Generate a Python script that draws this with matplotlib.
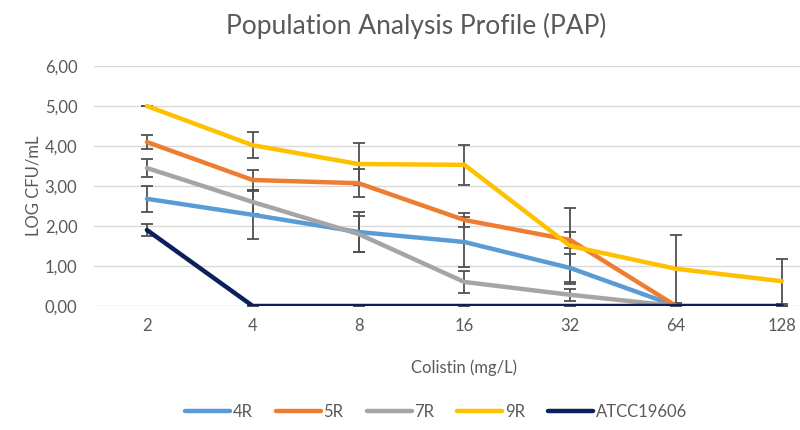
import numpy as np
import matplotlib
matplotlib.use("Agg")
import matplotlib.pyplot as plt

# Data
concentrations = ["2", "4", "8", "16", "32", "64", "128"]
series_names = ["4R", "5R", "7R", "9R", "ATCC19606"]

r4 = [2.68, 2.28, 1.85, 1.60, 0.95, 0.00, np.nan]
r5 = [4.10, 3.15, 3.07, 2.15, 1.65, 0.00, np.nan]
r7 = [3.45, 2.60, 1.80, 0.60, 0.28, 0.00, np.nan]
r9 = [5.00, 4.02, 3.55, 3.53, 1.50, 0.93, 0.62]
atcc = [1.90, 0.00, 0.00, 0.00, 0.00, 0.00, 0.00]

r4_err = [0.33, 0.60, 0.50, 0.62, 0.35, 0.0, np.nan]
r5_err = [0.18, 0.25, 0.35, 0.18, 0.20, 0.0, np.nan]
r7_err = [0.23, 0.30, 0.45, 0.27, 0.15, 0.0, np.nan]
r9_err = [0.00, 0.33, 0.52, 0.50, 0.95, 0.85, 0.56]
atcc_err = [0.15, 0, 0, 0, 0, 0, 0]

colors = ["#5B9BD5", "#ED7D31", "#A5A5A5", "#FFC000", "#0B1F5C"]
text_color = "#595959"

plt.rcParams['font.family'] = ['Lato', 'DejaVu Sans']

fig = plt.figure(figsize=(8, 4.3), dpi=100)
ax = fig.add_axes([0.1175, 0.2884, 0.926, 0.558])

x = np.arange(len(concentrations))
all_vals = [r4, r5, r7, r9, atcc]
all_errs = [r4_err, r5_err, r7_err, r9_err, atcc_err]

# error bars first, lines on top
for vals, errs in zip(all_vals, all_errs):
    ax.errorbar(x, vals, yerr=errs, fmt='none', ecolor="#505050",
                elinewidth=1.3, capsize=4, capthick=1.3, zorder=2)

for vals, name, c in zip(all_vals, series_names, colors):
    ax.plot(x, vals, color=c, lw=3.2, label=name, zorder=3,
            solid_capstyle='round', solid_joinstyle='round')

ax.set_xlim(-0.5, len(concentrations) - 0.5)
ax.set_ylim(0, 6)
ax.set_yticks(np.arange(0, 6.01, 1))
ax.set_yticklabels([f"{v:.2f}".replace(".", ",") for v in np.arange(0, 6.01, 1)])
ax.set_xticks(x)
ax.set_xticklabels(concentrations)
ax.grid(axis='y', color="#D9D9D9", lw=1)
ax.set_axisbelow(True)
for s in ax.spines.values():
    s.set_visible(False)
ax.tick_params(axis='y', length=0, colors=text_color, labelsize=12, pad=12)
ax.tick_params(axis='x', length=0, colors=text_color, labelsize=12, pad=9)

ax.set_ylabel("LOG CFU/mL", color=text_color, fontsize=12, labelpad=2)
ax.set_xlabel("Colistin (mg/L)", color=text_color, fontsize=12, labelpad=18)

fig.text(0.52, 0.94, "Population Analysis Profile (PAP)", ha='center', va='center',
         color=text_color, fontsize=19)

fig.legend(loc='center', bbox_to_anchor=(0.545, 0.042), ncol=5, frameon=False,
           fontsize=12, labelcolor=text_color, handlelength=2.7, handletextpad=0.15,
           columnspacing=1.4)

fig.savefig("out.png", dpi=100)
